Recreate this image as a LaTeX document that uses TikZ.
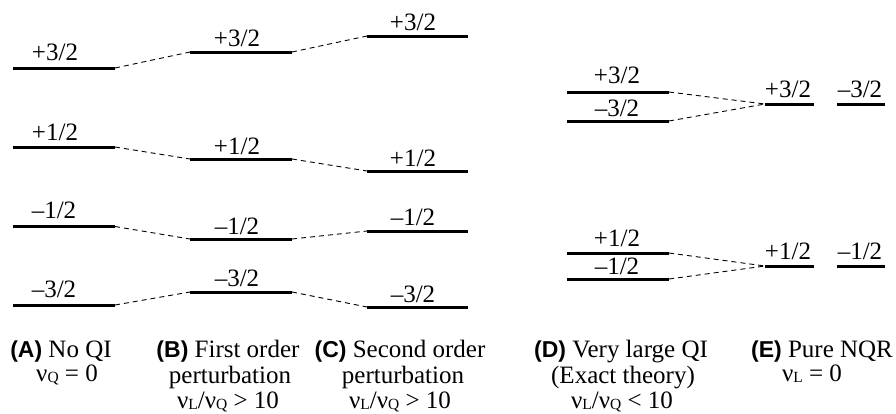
\documentclass[tikz,border=0pt]{standalone}
\usepackage{fontspec}
\setmainfont{Liberation Serif}
\newfontfamily\labsf{Liberation Sans}
\newcommand\nusub[1]{ν\raisebox{-1.5pt}{\fontsize{15.5}{15.5}\selectfont #1}}
\newcommand\capl[1]{{\labsf\bfseries\fontsize{23}{23}\selectfont (#1)}}
\tikzset{
  lvl/.style={line width=3pt, line cap=butt},
  conn/.style={line width=0.9pt, dash pattern=on 5pt off 4pt},
  lab/.style={anchor=base, inner sep=0pt, font=\fontsize{25}{25}\selectfont},
  captxt/.style={anchor=base, inner sep=0pt, font=\fontsize{25}{25}\selectfont}
}
\begin{document}
\begin{tikzpicture}[x=1pt,y=-1pt]
\useasboundingbox (0,0) rectangle (896,413);
% ---- column A
\coordinate (A3l) at (13,68);   \coordinate (A3r) at (115,68);
\coordinate (A1l) at (13,147);  \coordinate (A1r) at (115,147);
\coordinate (Am1l) at (13,226.5); \coordinate (Am1r) at (115,226.5);
\coordinate (Am3l) at (13,305); \coordinate (Am3r) at (115,305);
% ---- column B
\coordinate (B3l) at (190,52);  \coordinate (B3r) at (292,52);
\coordinate (B1l) at (190,159); \coordinate (B1r) at (292,159);
\coordinate (Bm1l) at (190,239); \coordinate (Bm1r) at (292,239);
\coordinate (Bm3l) at (190,292); \coordinate (Bm3r) at (292,292);
% ---- column C
\coordinate (C3l) at (367,36);  \coordinate (C3r) at (468,36);
\coordinate (C1l) at (367,171); \coordinate (C1r) at (468,171);
\coordinate (Cm1l) at (367,231); \coordinate (Cm1r) at (468,231);
\coordinate (Cm3l) at (367,307); \coordinate (Cm3r) at (468,307);
% ---- column D
\coordinate (D3l) at (567,92);   \coordinate (D3r) at (669,92);
\coordinate (Dm3l) at (567,121); \coordinate (Dm3r) at (669,121);
\coordinate (D1l) at (567,253);  \coordinate (D1r) at (669,253);
\coordinate (Dm1l) at (567,279); \coordinate (Dm1r) at (669,279);
% ---- column E
\coordinate (E3l) at (765,104);  \coordinate (E3r) at (814,104);
\coordinate (Em3l) at (837,104); \coordinate (Em3r) at (885,104);
\coordinate (E1l) at (765,266);  \coordinate (E1r) at (814,266);
\coordinate (Em1l) at (837,266); \coordinate (Em1r) at (885,266);

% level lines
\foreach \n in {A3,A1,Am1,Am3,B3,B1,Bm1,Bm3,C3,C1,Cm1,Cm3,D3,Dm3,D1,Dm1,E3,Em3,E1,Em1}
  \draw[lvl] (\n l) -- (\n r);

% connectors
\draw[conn] (A3r) -- (B3l);   \draw[conn] (B3r) -- (C3l);
\draw[conn] (A1r) -- (B1l);   \draw[conn] (B1r) -- (C1l);
\draw[conn] (Am1r) -- (Bm1l); \draw[conn] (Bm1r) -- (Cm1l);
\draw[conn] (Am3r) -- (Bm3l); \draw[conn] (Bm3r) -- (Cm3l);
\draw[conn] (D3r) -- (E3l);   \draw[conn] (Dm3r) -- (E3l);
\draw[conn] (D1r) -- (E1l);   \draw[conn] (Dm1r) -- (E1l);

% level labels
\node[lab] (tA3) at (55,60) {+3/2};
\node[lab] (tA1) at (55,140) {+1/2};
\node[lab] (tAm1) at (54,218) {–1/2};
\node[lab] (tAm3) at (54,297) {–3/2};
\node[lab] (tB3) at (237,46) {+3/2};
\node[lab] (tB1) at (237,154) {+1/2};
\node[lab] (tBm1) at (237,234) {–1/2};
\node[lab] (tBm3) at (237,286) {–3/2};
\node[lab] (tC3) at (413,30) {+3/2};
\node[lab] (tC1) at (413,166) {+1/2};
\node[lab] (tCm1) at (413,225) {–1/2};
\node[lab] (tCm3) at (413,302) {–3/2};
\node[lab] (tD3) at (617,83) {+3/2};
\node[lab] (tDm3) at (617,116) {–3/2};
\node[lab] (tD1) at (617,246) {+1/2};
\node[lab] (tDm1) at (617,274) {–1/2};
\node[lab] (tE3) at (788,97) {+3/2};
\node[lab] (tEm3) at (860,97) {–3/2};
\node[lab] (tE1) at (788,259) {+1/2};
\node[lab] (tEm1) at (860,259) {–1/2};

% captions
\node[captxt] (cA1) at (61,357) {\capl{A} No QI};
\node[captxt] (cA2) at (67,381) {\nusub{Q} = 0};
\node[captxt] (cB1) at (228,357) {\capl{B} First order};
\node[captxt] (cB2) at (230,383.5) {perturbation};
\node[captxt] (cB3) at (228,408) {\nusub{L}/\nusub{Q} > 10};
\node[captxt] (cC1) at (400,357) {\capl{C} Second order};
\node[captxt] (cC2) at (403,383.5) {perturbation};
\node[captxt] (cC3) at (400,408) {\nusub{L}/\nusub{Q} > 10};
\node[captxt] (cD1) at (621,357) {\capl{D} Very large QI};
\node[captxt] (cD2) at (623,383.5) {(Exact theory)};
\node[captxt] (cD3) at (622,408) {\nusub{L}/\nusub{Q} < 10};
\node[captxt] (cE1) at (822,357) {\capl{E} Pure NQR};
\node[captxt] (cE2) at (812,381) {\nusub{L} = 0};
\end{tikzpicture}
\end{document}
